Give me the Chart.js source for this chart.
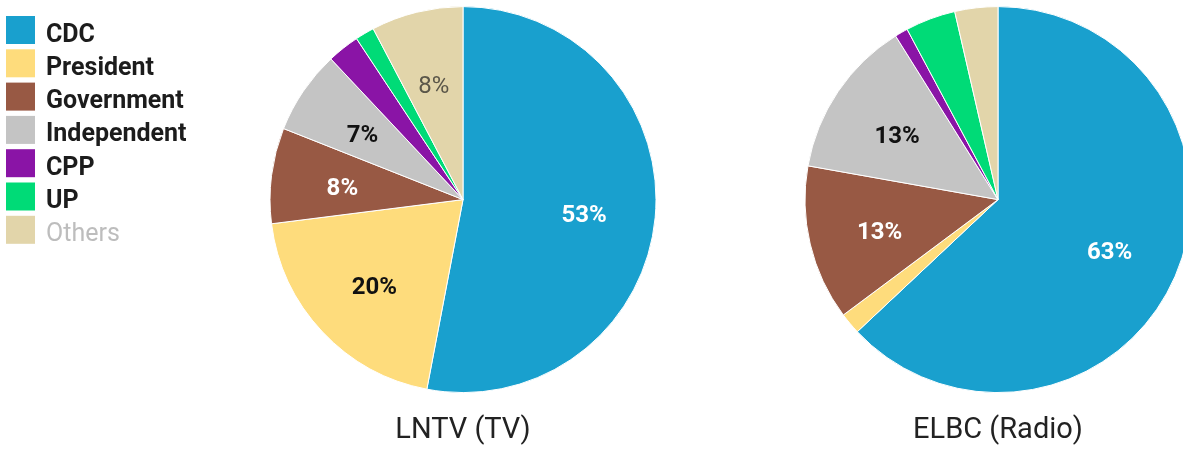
<!DOCTYPE html>
<html>
<head>
<meta charset="utf-8">
<script src="https://cdn.jsdelivr.net/npm/chart.js@4"></script>
<style>
html, body { margin: 0; padding: 0; background: #fff; overflow: hidden; width: 1183px; height: 452px; }
canvas { position: absolute; top: 0; }
#tvChart { left: 0; }
#radioChart { left: 766px; }
</style>
</head>
<body>
<canvas id="tvChart" width="926" height="452"></canvas>
<canvas id="radioChart" width="464" height="452"></canvas>
<script>
// data (share of coverage, %)
const categories = ['CDC', 'President', 'Government', 'Independent', 'CPP', 'UP', 'Others'];
const tvValues = [53, 20, 8, 7, 2.7, 1.6, 7.7];
const radioValues = [63, 1.8, 13, 13.3, 1.1, 4.2, 3.6];
const titles = ['LNTV (TV)', 'ELBC (Radio)'];

const colors = ['#19a0ce', '#fedc7c', '#985944', '#c4c4c4', '#8a14a6', '#00db77', '#e2d5aa'];
const labelColors = ['#ffffff', '#111111', '#ffffff', '#111111', '#ffffff', '#111111', '#5a5649'];

// percentage labels inside the slices (only for the bigger ones)
const sliceLabels = {
    id: 'sliceLabels',
    afterDatasetsDraw(chart) {
        const ctx = chart.ctx;
        const values = chart.data.datasets[0].data;
        const total = values.reduce((a, b) => a + b, 0);
        chart.getDatasetMeta(0).data.forEach((arc, i) => {
            const pct = values[i] / total * 100;
            if (pct < 5) return;
            const p = arc.getProps(['x', 'y', 'startAngle', 'endAngle', 'outerRadius'], true);
            const mid = (p.startAngle + p.endAngle) / 2;
            const r = p.outerRadius * 0.63;
            ctx.save();
            ctx.fillStyle = labelColors[i];
            ctx.font = (i === 6 ? '400' : '700') + ' 24px Roboto';
            ctx.textAlign = 'center';
            ctx.textBaseline = 'middle';
            ctx.fillText(Math.round(pct) + '%', p.x + Math.cos(mid) * r, p.y + Math.sin(mid) * r + 5);
            ctx.restore();
        });
    }
};

// legend column on the left, drawn on the first chart only
const sideLegend = {
    id: 'sideLegend',
    afterDraw(chart) {
        const ctx = chart.ctx;
        categories.forEach((name, i) => {
            const top = 16 + i * 33.3;
            ctx.save();
            ctx.fillStyle = colors[i];
            ctx.fillRect(6, top, 29, 28);
            ctx.fillStyle = i === 6 ? '#bdbdbd' : '#1c1c1c';
            ctx.font = (i === 6 ? '400' : '700') + ' 25px Roboto';
            ctx.textBaseline = 'alphabetic';
            ctx.fillText(name, 46, top + 25.5);
            ctx.restore();
        });
    }
};

function pieChart(ctx, values, title, extra) {
    return new Chart(ctx, {
        type: 'pie',
        data: {
            labels: categories,
            datasets: [{
                data: values,
                backgroundColor: colors,
                borderColor: '#ffffff',
                borderWidth: 1,
                radius: 193
            }]
        },
        options: {
            responsive: false,
            animation: false,
            devicePixelRatio: 1,
            layout: { padding: 0 },
            plugins: {
                legend: { display: false },
                tooltip: { enabled: false },
                title: {
                    display: true,
                    text: title,
                    position: 'bottom',
                    color: '#222222',
                    font: { family: 'Roboto', size: 29, weight: '400', lineHeight: 1.2 },
                    padding: { top: 14, bottom: 4 }
                }
            }
        },
        plugins: [sliceLabels].concat(extra)
    });
}

pieChart(document.getElementById('tvChart'), tvValues, titles[0], [sideLegend]);
pieChart(document.getElementById('radioChart'), radioValues, titles[1], []);
</script>
</body>
</html>
